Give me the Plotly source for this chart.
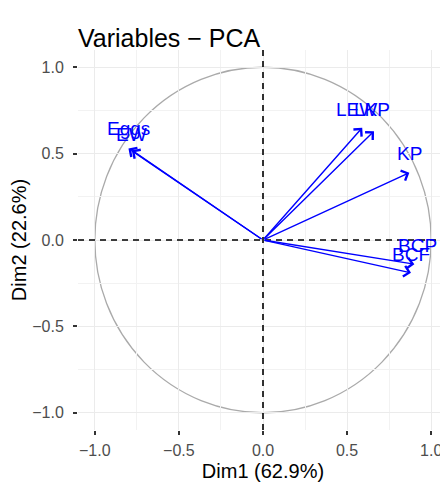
import plotly.graph_objects as go

# ---- data ----
variables = ["Eggs", "EW", "LEW", "LKP", "KP", "BCP", "BCF"]
dim1 = [-0.80, -0.78, 0.59, 0.66, 0.87, 0.90, 0.88]
dim2 = [0.53, 0.52, 0.65, 0.63, 0.39, -0.14, -0.19]
x_ticks = [-1.0, -0.5, 0.0, 0.5, 1.0]
y_ticks = [-1.0, -0.5, 0.0, 0.5, 1.0]
title_text = "Variables \u2212 PCA"
x_title = "Dim1 (62.9%)"
y_title = "Dim2 (22.6%)"

# label nudges (pixels) - styling only
label_xshift = [0, 0, -6, -2, 0, 3, 0]
label_yshift = [20, 16, 18, 22, 19, 19, 18]

FONT = "Liberation Sans"
BLUE = "#0000FF"

# the page body has an 8px margin, so the figure is drawn 8px smaller
W, H = 440, 474

fig = go.Figure()

fig.add_trace(go.Scatter(x=dim1, y=dim2, mode="markers",
                         marker=dict(size=0.1, opacity=0), hoverinfo="skip",
                         showlegend=False))

annotations = []
for name, x, y, xs, ys in zip(variables, dim1, dim2, label_xshift, label_yshift):
    annotations.append(dict(
        x=x, y=y, ax=0, ay=0, xref="x", yref="y", axref="x", ayref="y",
        text="", showarrow=True, arrowhead=4, arrowsize=1.5, arrowwidth=1.4,
        arrowcolor=BLUE, standoff=0, startstandoff=0))
    annotations.append(dict(
        x=x, y=y, xref="x", yref="y", text=name, showarrow=False,
        xshift=xs, yshift=ys, font=dict(family=FONT, size=19, color=BLUE),
        xanchor="center", yanchor="middle"))

shapes = [
    dict(type="circle", xref="x", yref="y", x0=-1, y0=-1, x1=1, y1=1,
         line=dict(color="#AAAAAA", width=1.3), layer="below"),
    dict(type="line", xref="x", yref="paper", x0=0, x1=0, y0=0, y1=1,
         line=dict(color="black", width=1.6, dash="6px,5px")),
    dict(type="line", xref="paper", yref="y", x0=0, x1=1, y0=0, y1=0,
         line=dict(color="black", width=1.6, dash="6px,5px")),
]

axis_common = dict(
    showgrid=True, gridcolor="#EBEBEB", gridwidth=1,
    minor=dict(dtick=0.25, showgrid=True, gridcolor="#F2F2F2", gridwidth=0.8),
    zeroline=False, showline=False, automargin=False,
    ticks="outside", ticklen=4, tickwidth=1.5, tickcolor="#333333",
    tickfont=dict(family=FONT, size=16, color="#4D4D4D"),
    tickformat=".1f",
)

fig.update_layout(
    width=W, height=H,
    margin=dict(l=70, r=0, t=42, b=52, autoexpand=False),
    paper_bgcolor="white", plot_bgcolor="white",
    title=dict(text=title_text, x=70/W, xanchor="left", xref="container",
               y=1 - 30/H, yanchor="middle", yref="container", automargin=False,
               font=dict(family=FONT, size=25, color="black")),
    xaxis=dict(range=[-1.1, 1.1], tickvals=x_ticks, ticklabelstandoff=2,
               title=dict(text=x_title, standoff=6,
                          font=dict(family=FONT, size=20, color="black")),
               **axis_common),
    yaxis=dict(range=[-1.1, 1.1], tickvals=y_ticks, ticklabelstandoff=6,
               title=dict(text=y_title, standoff=4,
                          font=dict(family=FONT, size=20, color="black")),
               **axis_common),
    shapes=shapes,
    annotations=annotations,
    showlegend=False,
)

fig.write_html("out.html")
